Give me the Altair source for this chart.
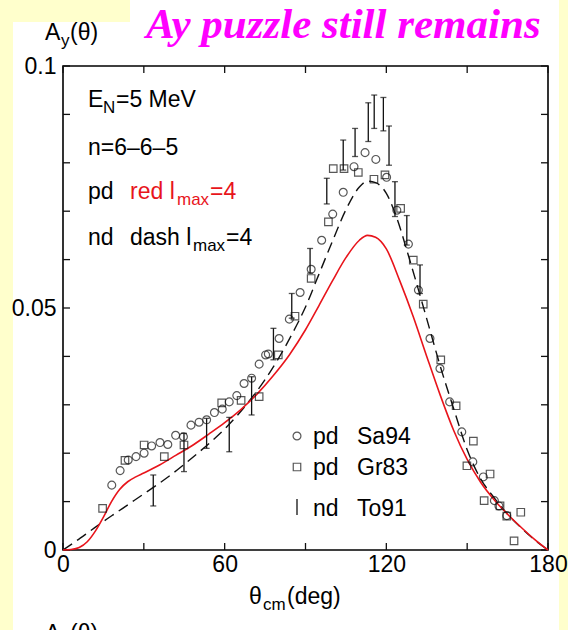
import altair as alt
import pandas as pd

# ---------------- data ----------------
theta_pd = [0, 3, 6, 9, 12, 15, 18, 21, 24, 27, 30, 36, 42, 48, 54, 60, 66, 72, 78, 84,
            90, 95, 100, 105, 110, 113, 116, 120, 125, 130, 135, 140, 145, 150, 155, 160,
            165, 170, 175, 180]
ay_pd = [0.0, 0.0001, 0.0005, 0.0017, 0.0039, 0.0068, 0.0100, 0.0125, 0.0141, 0.0151,
         0.0159, 0.0176, 0.0196, 0.0216, 0.0239, 0.0263, 0.0290, 0.0322, 0.0360, 0.0403,
         0.0455, 0.0505, 0.0556, 0.0604, 0.0640, 0.0650, 0.0646, 0.0622, 0.0556, 0.0482,
         0.0400, 0.0320, 0.0247, 0.0187, 0.0140, 0.0104, 0.0074, 0.0047, 0.0022, 0.0]

theta_nd = [0, 5, 10, 15, 20, 25, 30, 35, 40, 45, 50, 55, 60, 65, 70, 75, 80, 85, 90, 95,
            100, 105, 110, 113, 116, 120, 124, 128, 132, 136, 140, 145, 150, 155, 160, 165,
            170, 175, 180]
ay_nd = [0.0, 0.0019, 0.0039, 0.0059, 0.0078, 0.0097, 0.0116, 0.0135, 0.0155, 0.0177,
         0.0200, 0.0224, 0.0250, 0.0280, 0.0314, 0.0352, 0.0396, 0.0446, 0.0502, 0.0570,
         0.0638, 0.0703, 0.0750, 0.0762, 0.0759, 0.0737, 0.0684, 0.0612, 0.0536, 0.0458,
         0.0380, 0.0292, 0.0207, 0.0147, 0.0108, 0.0074, 0.0046, 0.0021, 0.0]

sa94_theta = [18.1, 21.2, 24.2, 27.1, 30.1, 32.9, 36.0, 38.9, 41.8, 44.7, 47.5, 50.5, 53.3,
              56.2, 59.1, 61.7, 64.5, 67.2, 70.0, 72.8, 75.2, 76.2, 80.2, 84.0, 88.0, 92.1,
              96.0, 100.1, 104.0, 108.0, 112.1, 116.1, 120.1, 123.9, 128.2, 131.9, 136.2,
              139.9, 143.5, 148.0, 152.1, 156.0, 160.1, 161.8, 164.7]
sa94_ay = [0.0134, 0.0164, 0.0186, 0.0193, 0.0200, 0.0215, 0.0222, 0.0218, 0.0237, 0.0234,
           0.0258, 0.0264, 0.0269, 0.0284, 0.0291, 0.0306, 0.0319, 0.0344, 0.0355, 0.0384,
           0.0403, 0.0405, 0.0437, 0.0477, 0.0532, 0.0580, 0.0640, 0.0694, 0.0739, 0.0792,
           0.0821, 0.0807, 0.0770, 0.0702, 0.0632, 0.0537, 0.0437, 0.0375, 0.0306, 0.0244,
           0.0182, 0.0151, 0.0102, 0.0091, 0.0071]

gr83_theta = [14.7, 23.0, 30.1, 37.6, 44.9, 58.9, 66.1, 72.8, 79.9, 86.1, 92.1, 98.5, 100.3,
              104.3, 109.6, 115.4, 119.5, 125.3, 130.0, 133.7, 140.2, 145.9, 149.9, 152.3,
              156.3, 158.5, 162.2, 164.7, 167.4, 169.9]
gr83_ay = [0.0086, 0.0185, 0.0217, 0.0193, 0.0217, 0.0304, 0.0309, 0.0317, 0.0403, 0.0483,
           0.0561, 0.0678, 0.0788, 0.0788, 0.0780, 0.0766, 0.0775, 0.0706, 0.0599, 0.0508,
           0.0393, 0.0298, 0.0174, 0.0225, 0.0102, 0.0157, 0.0091, 0.0070, 0.0019, 0.0078]

to91_theta = [33.5, 44.9, 53.3, 61.7, 70.0, 78.1, 84.9, 91.7, 97.9, 104.0, 108.4, 113.3,
              115.5, 118.9, 121.0, 123.2, 127.6, 132.5]
to91_lo = [0.0091, 0.0162, 0.0210, 0.0203, 0.0279, 0.0393, 0.0479, 0.0572, 0.0715, 0.0785,
           0.0813, 0.0844, 0.0871, 0.0866, 0.0795, 0.0689, 0.0630, 0.0530]
to91_hi = [0.0155, 0.0241, 0.0272, 0.0274, 0.0358, 0.0458, 0.0530, 0.0623, 0.0768, 0.0847,
           0.0871, 0.0924, 0.0940, 0.0935, 0.0876, 0.0761, 0.0691, 0.0589]

x_tick_values = [0, 30, 60, 90, 120, 150, 180]
y_tick_values = [0.0, 0.01, 0.02, 0.03, 0.04, 0.05, 0.06, 0.07, 0.08, 0.09, 0.1]
x_label_values = [0, 60, 120, 180]
y_label_values = [0, 0.05, 0.1]

# ---------------- layout ----------------
X0, Y0 = 63, 66          # page position of plot origin
W, H = 485, 484          # plot area
FONT = "Liberation Sans"
INK = "#111111"
YELLOW = "#FFFFCC"
RED = "#e8141b"

x_scale = alt.Scale(domain=[0, 180], nice=False, zero=False)
y_scale = alt.Scale(domain=[0, 0.1], nice=False, zero=False)
x_axis = alt.Axis(values=x_label_values, ticks=False, tickSize=0, domain=False, grid=False,
                  labelFontSize=23, labelFont=FONT, labelColor="black", labelPadding=3,
                  labelFlush=False, labelOverlap=False, format="d", title=None, zindex=2)
y_axis = alt.Axis(values=y_label_values, ticks=False, tickSize=0, domain=False, grid=False,
                  labelFontSize=23, labelFont=FONT, labelColor="black", labelPadding=7,
                  labelFlush=False, labelOverlap=False, format="~g", title=None, zindex=2)


def X(f):
    return alt.X(f, type="quantitative", scale=x_scale, axis=x_axis)


def Y(f):
    return alt.Y(f, type="quantitative", scale=y_scale, axis=y_axis)


one = pd.DataFrame({"a": [0]})


def box(x1, y1, x2, y2, color):
    return alt.Chart(one).mark_rect(color=color).encode(
        x=alt.value(x1 - X0), x2=alt.value(x2 - X0),
        y=alt.value(y1 - Y0), y2=alt.value(y2 - Y0))


def txt(s, px, py, size=23, color="black", font=FONT, **kw):
    return alt.Chart(pd.DataFrame({"s": [s]})).mark_text(
        align="left", baseline="alphabetic", font=font, fontSize=size, color=color, **kw
    ).encode(x=alt.value(px - X0), y=alt.value(py - Y0), text="s:N")


layers = []
# slide background pieces
layers += [box(0, 0, 13, 630, YELLOW), box(0, 0, 130, 22, YELLOW), box(559, 0, 568, 630, YELLOW)]

# inward ticks on all four sides
xt = pd.DataFrame({"v": x_tick_values})
yt = pd.DataFrame({"v": y_tick_values})
tick_style = dict(color=INK, strokeWidth=1.3)
layers += [
    alt.Chart(xt).mark_rule(**tick_style).encode(x=X("v"), y=alt.value(H), y2=alt.value(H - 7)),
    alt.Chart(xt).mark_rule(**tick_style).encode(x=X("v"), y=alt.value(0), y2=alt.value(7)),
    alt.Chart(yt).mark_rule(**tick_style).encode(y=Y("v"), x=alt.value(0), x2=alt.value(7)),
    alt.Chart(yt).mark_rule(**tick_style).encode(y=Y("v"), x=alt.value(W), x2=alt.value(W - 7)),
]

# theory curves
pd_df = pd.DataFrame({"theta": theta_pd, "ay": ay_pd})
nd_df = pd.DataFrame({"theta": theta_nd, "ay": ay_nd})
layers += [
    alt.Chart(nd_df).mark_line(color=INK, strokeWidth=1.4, strokeDash=[11, 6],
                               interpolate="monotone").encode(x=X("theta"), y=Y("ay")),
    alt.Chart(pd_df).mark_line(color=RED, strokeWidth=1.6,
                               interpolate="monotone").encode(x=X("theta"), y=Y("ay")),
]

# data points
sa_df = pd.DataFrame({"theta": sa94_theta, "ay": sa94_ay})
gr_df = pd.DataFrame({"theta": gr83_theta, "ay": gr83_ay})
to_df = pd.DataFrame({"theta": to91_theta, "lo": to91_lo, "hi": to91_hi})
layers += [
    alt.Chart(sa_df).mark_point(shape="circle", filled=False, size=62, strokeWidth=1.2,
                                color=INK).encode(x=X("theta"), y=Y("ay")),
    alt.Chart(gr_df).mark_point(shape="square", filled=False, size=56, strokeWidth=1.2,
                                color=INK).encode(x=X("theta"), y=Y("ay")),
    alt.Chart(to_df).mark_rule(color=INK, strokeWidth=1.3).encode(
        x=X("theta"), y=Y("lo"), y2="hi"),
    alt.Chart(to_df).mark_tick(orient="horizontal", size=6, thickness=1.3, color=INK).encode(
        x=X("theta"), y=Y("lo")),
    alt.Chart(to_df).mark_tick(orient="horizontal", size=6, thickness=1.3, color=INK).encode(
        x=X("theta"), y=Y("hi")),
]

# in-plot legend
layers += [
    alt.Chart(one).mark_point(shape="circle", filled=False, size=62, strokeWidth=1.2,
                              color=INK).encode(x=alt.value(297 - X0), y=alt.value(436 - Y0)),
    alt.Chart(one).mark_point(shape="square", filled=False, size=56, strokeWidth=1.2,
                              color=INK).encode(x=alt.value(297 - X0), y=alt.value(467 - Y0)),
    alt.Chart(one).mark_rule(color=INK, strokeWidth=1.3).encode(
        x=alt.value(297 - X0), y=alt.value(499 - Y0), y2=alt.value(515 - Y0)),
    txt("pd", 313, 444), txt("Sa94", 357, 444),
    txt("pd", 313, 475), txt("Gr83", 357, 475),
    txt("nd", 313, 516), txt("To91", 357, 516),
]

# annotation block
layers += [
    txt("E", 88, 107), txt("N", 103, 113, size=17), txt("=5 MeV", 116, 107),
    txt("n=6\u20136\u20135", 88, 155),
    txt("pd", 88, 199), txt("red l", 130, 199, color=RED), txt("max", 177, 205, size=17, color=RED),
    txt("=4", 210, 199, color=RED),
    txt("nd", 88, 245), txt("dash l", 130, 245), txt("max", 193, 251, size=17),
    txt("=4", 226, 245),
]

# axis titles and slide title
layers += [
    txt("A", 45, 40), txt("y", 61, 46, size=17), txt("(\u03b8)", 70, 40),
    txt("\u03b8", 249, 604), txt("cm", 263, 610, size=17), txt("(deg)", 287, 604),
    txt("A", 45, 641), txt("y", 61, 647, size=17), txt("(\u03b8)", 70, 641),
    txt("Ay puzzle still remains", 146, 38, size=43, color="#FF00FF",
        font="Liberation Serif", fontWeight="bold", fontStyle="italic"),
]

chart = alt.layer(*layers).properties(
    width=W, height=H,
    padding={"left": X0, "top": Y0, "right": 568 - X0 - W, "bottom": 630 - Y0 - H},
    autosize="none",
    background="white",
).configure_view(stroke="black", strokeWidth=1.6)

chart.save("out.html", embed_options={"renderer": "svg", "actions": False})
